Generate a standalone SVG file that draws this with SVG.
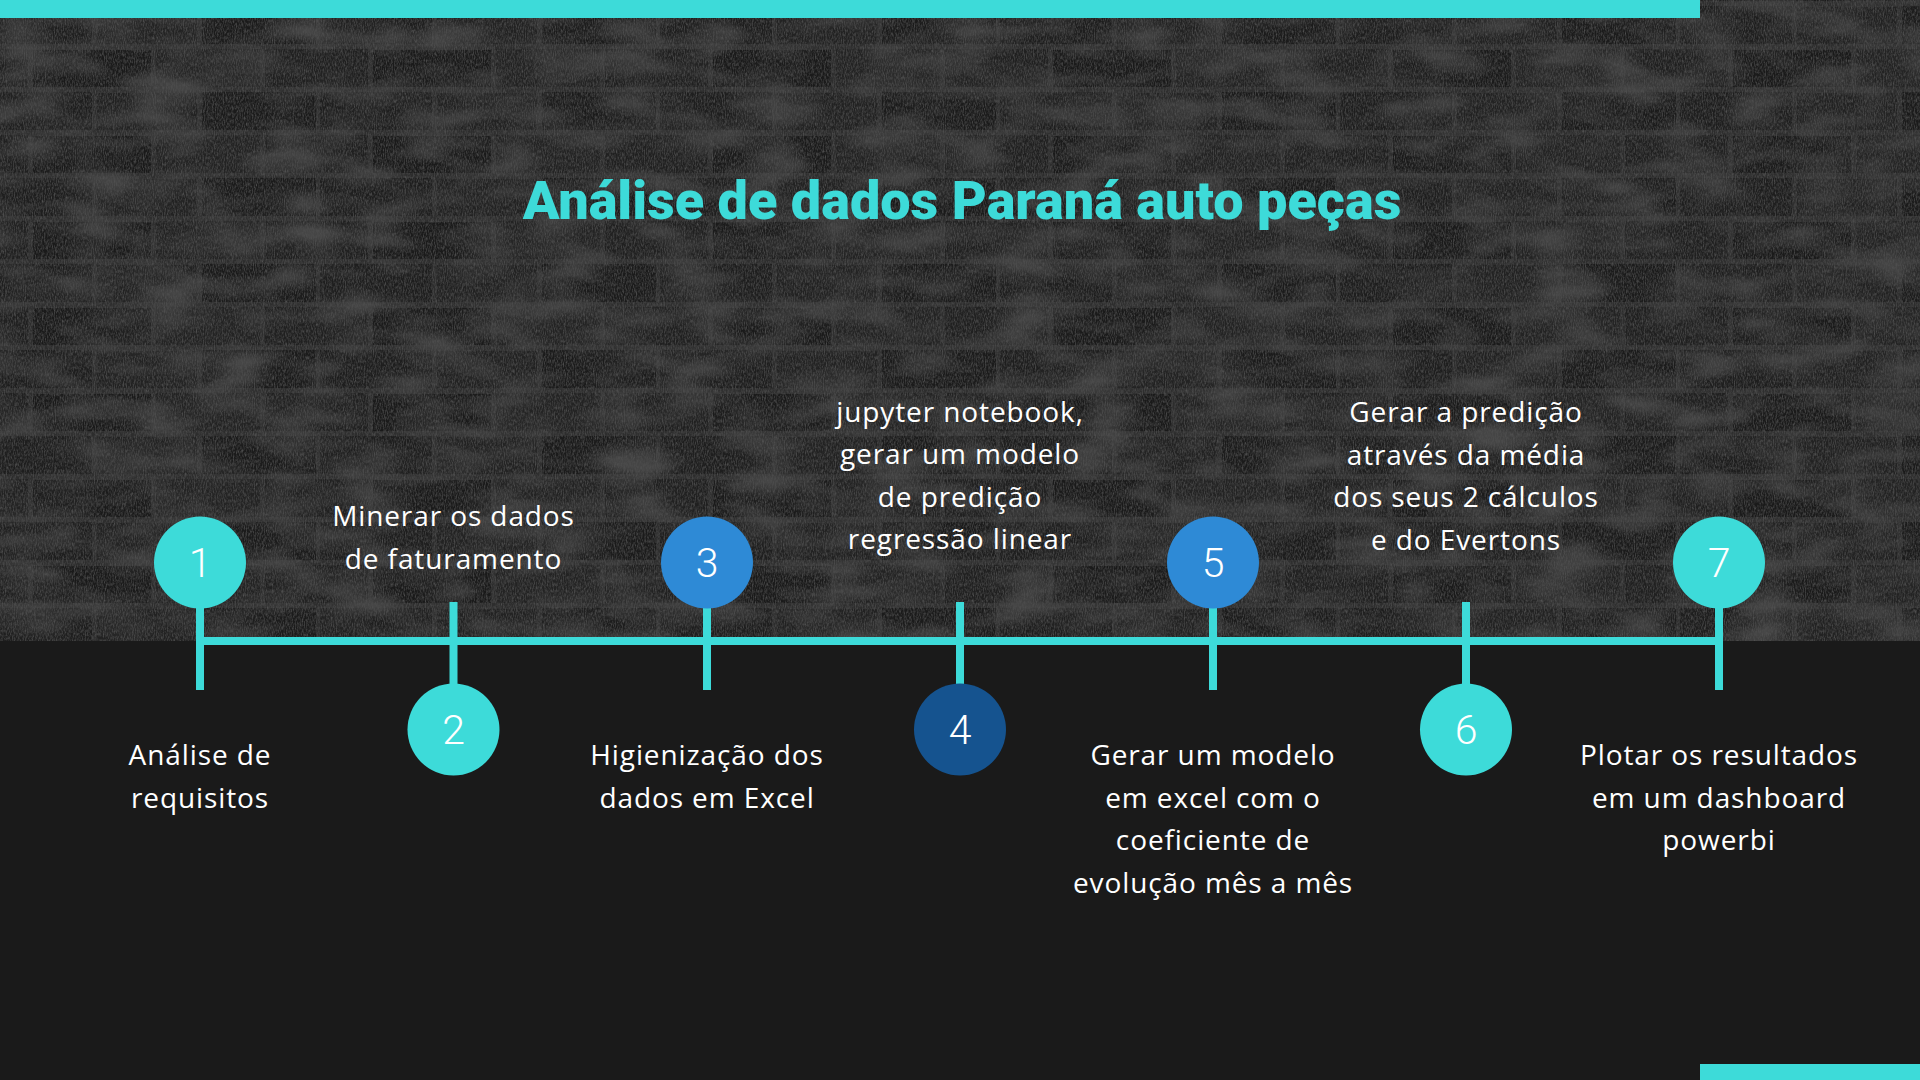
<svg xmlns="http://www.w3.org/2000/svg" width="1920" height="1080" viewBox="0 0 1920 1080">
  <defs>
    <pattern id="bricks" x="-20" y="6" width="340" height="86" patternUnits="userSpaceOnUse">
      <rect x="0" y="0" width="340" height="86" fill="#2d2d2d"/>
      <rect x="0" y="0" width="112" height="38" fill="#1e1e1e"/>
      <rect x="117" y="1" width="100" height="37" fill="#222222"/>
      <rect x="222" y="0" width="114" height="38" fill="#1b1b1b"/>
      <rect x="0" y="43" width="48" height="38" fill="#202020"/>
      <rect x="53" y="44" width="118" height="37" fill="#1a1a1a"/>
      <rect x="176" y="43" width="104" height="38" fill="#232323"/>
      <rect x="285" y="43" width="55" height="38" fill="#202020"/>
    </pattern>
    <filter id="grit" x="0" y="0" width="100%" height="100%">
      <feTurbulence type="fractalNoise" baseFrequency="0.9 0.3" numOctaves="3" seed="4" result="n"/>
      <feColorMatrix in="n" type="matrix" values="0 0 0 0 0.08  0 0 0 0 0.08  0 0 0 0 0.08  0 0 0 -1.8 1.15"/>
    </filter>
    <filter id="blotch" x="0" y="0" width="100%" height="100%">
      <feTurbulence type="fractalNoise" baseFrequency="0.015 0.04" numOctaves="2" seed="9" result="b"/>
      <feColorMatrix in="b" type="matrix" values="0 0 0 0 0.06  0 0 0 0 0.06  0 0 0 0 0.06  0 0 0 -2.2 1.3"/>
    </filter>
  </defs>
  <style>
    .cyan { fill: #3DDBD9; }
    .blue { fill: #2E8AD6; }
    .navy { fill: #15538F; }
    .tick { stroke: #3DDBD9; stroke-width: 8; }
    .num { font-family: Roboto, "Liberation Sans", sans-serif; font-weight: 300; font-size: 41px; fill: #FFFFFF; text-anchor: middle; }
    .lbl { font-family: "Open Sans", "Noto Sans", "Liberation Sans", sans-serif; font-size: 28px; letter-spacing: 0.9px; fill: #FFFFFF; text-anchor: middle; }
    .title { font-family: Roboto, "Liberation Sans", sans-serif; font-weight: 900; font-size: 54px; fill: #3DDBD9; text-anchor: middle; }
  </style>

  <!-- background -->
  <rect x="0" y="0" width="1920" height="1080" fill="#1A1A1A"/>
  <g id="brick-wall">
    <rect x="0" y="0" width="1920" height="641" fill="url(#bricks)"/>
    <rect x="0" y="0" width="1920" height="641" filter="url(#blotch)"/>
    <rect x="0" y="0" width="1920" height="641" filter="url(#grit)"/>
  </g>

  <!-- accent bars -->
  <rect x="0" y="0" width="1700" height="18" class="cyan"/>
  <rect x="1700" y="1064" width="220" height="16" class="cyan"/>

  <text class="title" x="962" y="219">Análise de dados Paraná auto peças</text>

  <!-- connectors -->
  <g id="connectors">
    <rect x="196" y="637" width="1527" height="8" class="cyan"/>
    <line class="tick" x1="200" y1="562" x2="200" y2="690"/>
    <line class="tick" x1="453.5" y1="602" x2="453.5" y2="729"/>
    <line class="tick" x1="707" y1="562" x2="707" y2="690"/>
    <line class="tick" x1="960" y1="602" x2="960" y2="729"/>
    <line class="tick" x1="1213" y1="562" x2="1213" y2="690"/>
    <line class="tick" x1="1466" y1="602" x2="1466" y2="729"/>
    <line class="tick" x1="1719" y1="562" x2="1719" y2="690"/>
  </g>

  <g id="node-1">
    <circle cx="200" cy="562.5" r="46" class="cyan"/>
    <text class="num" x="200" y="577">1</text>
    <text class="lbl" x="200" y="765">Análise de</text>
    <text class="lbl" x="200" y="807.5">requisitos</text>
  </g>

  <g id="node-2">
    <circle cx="453.5" cy="729.5" r="46" class="cyan"/>
    <text class="num" x="453.5" y="744">2</text>
    <text class="lbl" x="453.5" y="526">Minerar os dados</text>
    <text class="lbl" x="453.5" y="568.5">de faturamento</text>
  </g>

  <g id="node-3">
    <circle cx="707" cy="562.5" r="46" class="blue"/>
    <text class="num" x="707" y="577">3</text>
    <text class="lbl" x="707" y="765">Higienização dos</text>
    <text class="lbl" x="707" y="807.5">dados em Excel</text>
  </g>

  <g id="node-4">
    <circle cx="960" cy="729.5" r="46" class="navy"/>
    <text class="num" x="960" y="744">4</text>
    <text class="lbl" x="960" y="421.5">jupyter notebook,</text>
    <text class="lbl" x="960" y="464">gerar um modelo</text>
    <text class="lbl" x="960" y="506.5">de predição</text>
    <text class="lbl" x="960" y="549">regressão linear</text>
  </g>

  <g id="node-5">
    <circle cx="1213" cy="562.5" r="46" class="blue"/>
    <text class="num" x="1213" y="577">5</text>
    <text class="lbl" x="1213" y="765">Gerar um modelo</text>
    <text class="lbl" x="1213" y="807.5">em excel com o</text>
    <text class="lbl" x="1213" y="850">coeficiente de</text>
    <text class="lbl" x="1213" y="892.5">evolução mês a mês</text>
  </g>

  <g id="node-6">
    <circle cx="1466" cy="729.5" r="46" class="cyan"/>
    <text class="num" x="1466" y="744">6</text>
    <text class="lbl" x="1466" y="422">Gerar a predição</text>
    <text class="lbl" x="1466" y="464.5">através da média</text>
    <text class="lbl" x="1466" y="507">dos seus 2 cálculos</text>
    <text class="lbl" x="1466" y="549.5">e do Evertons</text>
  </g>

  <g id="node-7">
    <circle cx="1719" cy="562.5" r="46" class="cyan"/>
    <text class="num" x="1719" y="577">7</text>
    <text class="lbl" x="1719" y="765">Plotar os resultados</text>
    <text class="lbl" x="1719" y="807.5">em um dashboard</text>
    <text class="lbl" x="1719" y="850">powerbi</text>
  </g>
</svg>
